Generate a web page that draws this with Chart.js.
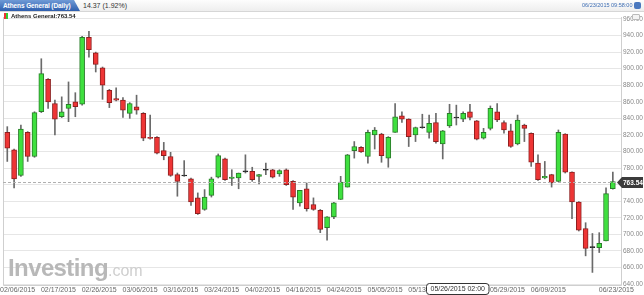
<!DOCTYPE html>
<html>
<head>
<meta charset="utf-8">
<title>Athens General (Daily)</title>
<script src="https://cdn.jsdelivr.net/npm/chart.js@4.4.1/dist/chart.umd.min.js"></script>
<style>
  body { margin: 0; background: #fff; font-family: "Liberation Sans", Arial, sans-serif; }
  #wrap { position: relative; width: 644px; height: 295px; overflow: hidden; background: #fff; }
  #chart { position: absolute; left: 0; top: 0; }
  .topbar { position: absolute; left: 0; top: 0; width: 644px; height: 11px; border-bottom: 1px solid #d6d6d6; background: linear-gradient(#fdfdfd, #eeeeee); }
  .tab { position: absolute; left: 0; top: 0; width: 80px; height: 11px; line-height: 11px; padding-left: 3px; box-sizing: border-box;
         background: linear-gradient(#6f9ad6, #2f5fae); color: #fff; font-size: 6.5px; font-weight: bold; white-space: nowrap; letter-spacing: -0.1px;
         clip-path: polygon(0 0, 74px 0, 80px 11px, 0 11px); }
  .chg { position: absolute; left: 83px; top: 0; line-height: 11px; font-size: 7px; color: #333; }
  .stamp { position: absolute; left: 582px; top: 0; line-height: 11px; font-size: 5.5px; color: #3d6db3; white-space: nowrap; }
  .icon { position: absolute; left: 634px; top: 2px; width: 7px; height: 7px; border-radius: 2px; background: #4a78bf; }
  .minbox { position: absolute; left: 632px; top: 14px; width: 8px; height: 6px; border: 1px solid #bbb; border-radius: 1px; background: #f4f4f4; box-sizing: border-box; }
  .legend { position: absolute; left: 4px; top: 12px; line-height: 8px; font-size: 6px; font-weight: bold; color: #222; white-space: nowrap; }
  .mini { display: inline-block; width: 4px; height: 6px; margin-right: 3px; vertical-align: -1px; background: linear-gradient(90deg, #e33 50%, #3c3 50%); }
  .logo { position: absolute; left: 8px; top: 254px; font-size: 24px; font-weight: bold; color: #b8b8b8; letter-spacing: -0.6px; white-space: nowrap; }
  .logo span { font-size: 16px; font-weight: normal; color: #cfcfcf; letter-spacing: 0; }
</style>
</head>
<body>
<div id="wrap">
  <canvas id="chart" width="644" height="295"></canvas>
  <div class="topbar"></div>
  <div class="tab">Athens General (Daily)</div>
  <div class="chg">14.37 (1.92%)</div>
  <div class="stamp">06/23/2015 09:58:00</div>
  <div class="icon"></div>
  <div class="minbox"></div>
  <div class="legend"><span class="mini"></span>Athens General:763.54</div>
  <div class="logo">Investing<span>.com</span></div>
</div>
<script>
// Trading days shown on the chart (2015)
const dates = [
  '02/05', '02/06', '02/09', '02/10', '02/11', '02/12', '02/13', '02/17', '02/18', '02/19',
  '02/20', '02/24', '02/25', '02/26', '02/27', '03/02', '03/03', '03/04', '03/05', '03/06',
  '03/09', '03/10', '03/11', '03/12', '03/13', '03/16', '03/17', '03/18', '03/19', '03/20',
  '03/23', '03/24', '03/26', '03/27', '03/30', '03/31', '04/01', '04/02', '04/07', '04/08',
  '04/09', '04/14', '04/15', '04/16', '04/17', '04/20', '04/21', '04/22', '04/23', '04/24',
  '04/27', '04/28', '04/29', '04/30', '05/04', '05/05', '05/06', '05/07', '05/08', '05/11',
  '05/12', '05/13', '05/14', '05/15', '05/18', '05/19', '05/20', '05/21', '05/22', '05/25',
  '05/26', '05/27', '05/28', '05/29', '06/02', '06/03', '06/04', '06/05', '06/08', '06/09',
  '06/10', '06/11', '06/12', '06/15', '06/16', '06/17', '06/18', '06/19', '06/22', '06/23'
]

const opens = [
  823, 802, 771, 823, 794, 848, 887, 858, 842, 852,
  860, 857, 938, 919, 901, 874, 864, 862, 846, 854,
  846, 817, 817, 801, 794, 772, 771, 767, 744, 730,
  747, 769, 791, 767.6, 768, 776, 776, 770, 778, 778,
  773, 778, 764, 738, 755, 736, 729, 708, 721, 742,
  757, 801, 805, 794, 820, 821, 792, 823, 843, 839,
  820, 829.3, 823, 835, 809, 831, 841, 839, 848, 837,
  816, 828, 848, 835, 825, 809, 832, 822, 786, 768,
  772, 764, 821, 775, 739, 707, 684.6, 684, 692, 755
]
const highs = [
  830, 803, 832, 824, 848, 912, 888, 862, 866, 884,
  871, 939, 945, 920, 902, 875, 877, 865, 859, 868,
  847, 844, 818, 811, 799, 774, 789, 768, 750, 754,
  769, 797, 792, 778, 774, 796, 781, 772.5, 786, 778.5,
  778, 779, 765, 753, 762, 744, 730, 721.5, 738.5, 770,
  796.5, 812, 806, 826, 829, 822, 818, 858, 848, 839.5,
  829.5, 845, 844, 846, 825.5, 857, 856, 848, 857, 837.5,
  828, 855, 858, 837, 833, 844, 833, 822.5, 796, 788,
  772.5, 826, 821.5, 775.5, 739.5, 714, 701, 702, 756, 775
]
const lows = [
  788, 756, 770, 788, 793, 847, 852, 820, 841, 836,
  842, 856, 914, 896, 863, 853, 861, 841, 840, 845,
  813, 815, 797, 790, 770, 746, 770, 735, 724, 729,
  745, 768, 765, 759, 755, 774, 764, 761, 772, 768,
  770, 759, 730, 734, 728, 729, 702, 693, 719, 742,
  757, 792, 799, 786, 803, 787, 781, 823, 835, 806,
  812, 828, 816, 810, 791, 829, 832, 836, 838, 814,
  815, 826, 836, 822, 805, 808, 812, 782, 765, 767,
  757, 763.5, 774, 719, 704, 674, 654, 678, 692, 754.5
]
const closes = [
  804, 767, 827, 794, 847, 894, 860, 839, 848, 857,
  854, 938, 923, 905, 880, 859, 862, 850, 858, 850,
  816, 816, 798, 795, 771, 764, 771, 739, 725, 745,
  767, 795, 766, 769, 774, 776, 766, 772, 778, 769,
  777, 760, 745, 753, 731, 730, 706, 721, 738, 763,
  796, 806, 799.5, 823, 826, 795, 817, 842, 839, 818,
  829, 829.3, 834, 812, 825, 846, 841, 846, 841, 815,
  823, 852, 838, 826, 806, 838, 828, 787, 766, 770,
  762, 823, 775, 739, 705, 683, 684.6, 689, 749.17, 763.54
]

// Axis labels
const tickIdx = [1, 7, 13, 19, 25, 31, 37, 43, 49, 55, 61, 73, 79, 89]
const yTicks = [640, 660, 680, 700, 720, 740, 760, 780, 800, 820, 840, 860, 880, 900, 920, 940, 960]
const lastPrice = 763.54
const crossLabel = '05/26/2015 02:00'
const crossAt = 66.2

const FONT = '"Liberation Sans", Arial, sans-serif'

function candleColor(i, up, down, flat) {
  if (closes[i] > opens[i]) return up
  if (closes[i] < opens[i]) return down
  return flat
}

// Body of each candle as a floating bar; dojis get a thin bar so they stay visible
const bodies = opens.map((o, i) => {
  let lo = Math.min(o, closes[i])
  let hi = Math.max(o, closes[i])
  if (hi - lo < 1.2) {
    const mid = (hi + lo) / 2
    lo = mid - 0.6
    hi = mid + 0.6
  }
  return { x: i, y: [lo, hi] }
})
const wicks = lows.map((l, i) => ({ x: i, y: [l, highs[i]] }))

const extras = {
  id: 'extras',
  beforeDatasetsDraw(chart) {
    const { ctx, chartArea: a } = chart
    ctx.save()
    ctx.strokeStyle = '#cfcfcf'
    ctx.lineWidth = 1
    ctx.beginPath()
    ctx.moveTo(a.left + 0.5, a.top)
    ctx.lineTo(a.left + 0.5, a.bottom + 0.5)
    ctx.lineTo(a.right + 0.5, a.bottom + 0.5)
    ctx.lineTo(a.right + 0.5, a.top)
    ctx.stroke()
    ctx.restore()
  },
  afterDatasetsDraw(chart) {
    const { ctx, chartArea: a, scales: { x, y } } = chart
    ctx.save()
    // last price line
    const py = Math.round(y.getPixelForValue(lastPrice)) + 0.5
    ctx.strokeStyle = '#b0b0b0'
    ctx.setLineDash([3, 2])
    ctx.beginPath()
    ctx.moveTo(a.left, py)
    ctx.lineTo(a.right, py)
    ctx.stroke()
    ctx.setLineDash([])

    // price tag on the right axis
    ctx.fillStyle = '#3b3b3b'
    ctx.beginPath()
    ctx.moveTo(a.right - 4, py)
    ctx.lineTo(a.right + 1, py - 5.5)
    ctx.lineTo(643, py - 5.5)
    ctx.lineTo(643, py + 5.5)
    ctx.lineTo(a.right + 1, py + 5.5)
    ctx.closePath()
    ctx.fill()
    ctx.fillStyle = '#fff'
    ctx.font = 'bold 6.5px ' + FONT
    ctx.textAlign = 'left'
    ctx.textBaseline = 'middle'
    ctx.fillText(lastPrice.toFixed(2), a.right + 2, py + 0.5)

    // crosshair date box on the x axis
    const cx = x.getPixelForValue(crossAt)
    ctx.font = '7px ' + FONT
    const w = ctx.measureText(crossLabel).width + 8
    const bx = Math.round(cx - w / 2) + 0.5
    const by = a.bottom - 1.5
    ctx.fillStyle = '#fff'
    ctx.strokeStyle = '#333'
    ctx.beginPath()
    ctx.roundRect(bx, by, w, 11, 3)
    ctx.fill()
    ctx.stroke()
    ctx.fillStyle = '#333'
    ctx.textAlign = 'center'
    ctx.fillText(crossLabel, bx + w / 2, by + 6)
    ctx.restore()
  }
}

new Chart(document.getElementById('chart'), {
  type: 'bar',
  data: {
    datasets: [
      {
        label: 'wick',
        data: wicks,
        backgroundColor: '#6a6a6a',
        barThickness: 1,
        grouped: false,
        order: 2
      },
      {
        label: 'body',
        data: bodies,
        backgroundColor: opens.map((o, i) => candleColor(i, '#3fe03f', '#ee3535', '#222')),
        borderColor: opens.map((o, i) => candleColor(i, '#2a7d2a', '#8e1f1f', '#222')),
        borderWidth: 1,
        borderSkipped: false,
        barThickness: 5,
        grouped: false,
        order: 1
      }
    ]
  },
  options: {
    responsive: false,
    animation: false,
    layout: { padding: { left: 3, top: 17, right: 0, bottom: 0 } },
    plugins: { legend: { display: false }, tooltip: { enabled: false } },
    scales: {
      x: {
        type: 'linear',
        offset: false,
        min: -0.63,
        max: 90.2,
        afterBuildTicks: s => { s.ticks = tickIdx.map(v => ({ value: v })) },
        afterFit: s => { s.height = 10; s.paddingLeft = 0; s.paddingRight = 0 },
        grid: { display: false, drawTicks: false, offset: false },
        border: { display: false },
        ticks: {
          autoSkip: false,
          maxRotation: 0,
          minRotation: 0,
          padding: 1,
          labelOffset: 3.5,
          color: '#666',
          font: { size: 7, family: FONT },
          callback: v => dates[Math.round(v)] + '/2015'
        }
      },
      y: {
        type: 'linear',
        position: 'right',
        min: 638.8,
        max: 962.4,
        afterBuildTicks: s => { s.ticks = yTicks.map(v => ({ value: v })) },
        afterFit: s => { s.width = 23 },
        grid: { color: '#e6e6e6', drawTicks: false },
        border: { display: false },
        ticks: {
          padding: 2,
          color: '#888',
          font: { size: 6.5, family: FONT },
          callback: v => v.toFixed(2)
        }
      }
    }
  },
  plugins: [extras]
})
</script>
</body>
</html>
